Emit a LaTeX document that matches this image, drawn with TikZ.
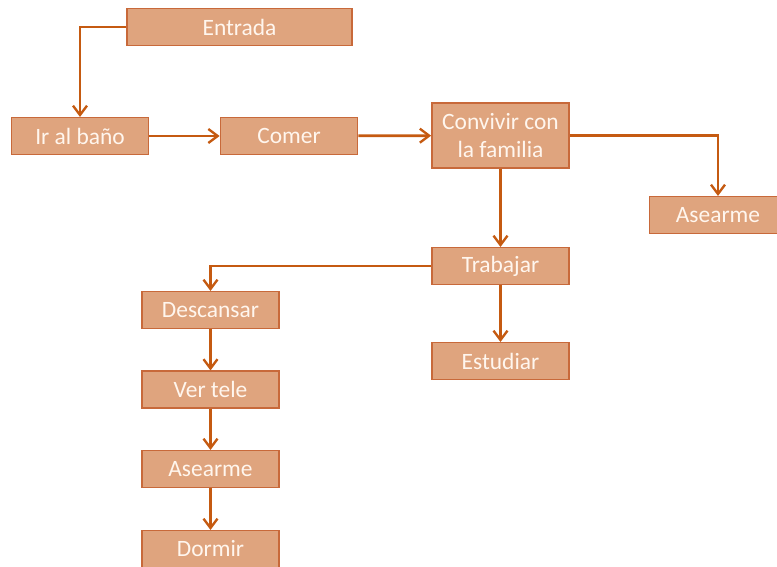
\documentclass[tikz,border=0pt]{standalone}
\usepackage{fontspec}
\setmainfont{Carlito}
\usetikzlibrary{arrows.meta,positioning}
\definecolor{cFill}{HTML}{DFA47E}
\definecolor{cEdge}{HTML}{C8693A}
\definecolor{cLine}{HTML}{C55A11}
\definecolor{cText}{HTML}{FFF6EE}
\tikzset{
  act/.style={rectangle,draw=cEdge,line width=1.2pt,fill=cFill,text=cText,
    minimum width=4.12cm,minimum height=1.1cm,inner sep=2pt,align=center,
    font=\fontsize{20}{23.5}\selectfont},
  flow/.style={-{Straight Barb[length=2.8mm,width=4.2mm,line width=2pt]},line width=2.4pt,cLine},
}

\begin{document}
\begin{tikzpicture}[x=0.03cm,y=-0.03cm]
  \useasboundingbox (0,0) rectangle (777,567);
  % upper row
  \node[act,minimum width=6.75cm] (entrada) at (239.5,27) {Entrada};
  \node[act] (bano) at (80,136) {Ir al baño};
  \node[act] (comer) at (289,136) {Comer};
  \node[act,minimum height=1.95cm] (convivir) at (500.5,135.5) {Convivir con\\la familia};
  \node[act] (asear1) at (718,215) {Asearme};
  % middle
  \node[act] (trabajar) at (500.5,266) {Trabajar};
  \node[act] (estudiar) at (500.5,361) {Estudiar};
  % left column
  \node[act] (descansar) at (210.5,310) {Descansar};
  \node[act] (tele) at (210.5,389.5) {Ver tele};
  \node[act] (asear2) at (210.5,469) {Asearme};
  \node[act] (dormir) at (210.5,549) {Dormir};

  \draw[flow] (entrada.west) -| (bano.north);
  \draw[flow] (bano) -- (comer);
  \draw[flow] (comer) -- (convivir);
  \draw[flow] (convivir.east) -| (asear1.north);
  \draw[flow] (convivir) -- (trabajar);
  \draw[flow] (trabajar.west) -| (descansar.north);
  \draw[flow] (trabajar) -- (estudiar);
  \draw[flow] (descansar) -- (tele);
  \draw[flow] (tele) -- (asear2);
  \draw[flow] (asear2) -- (dormir);
\end{tikzpicture}
\end{document}
